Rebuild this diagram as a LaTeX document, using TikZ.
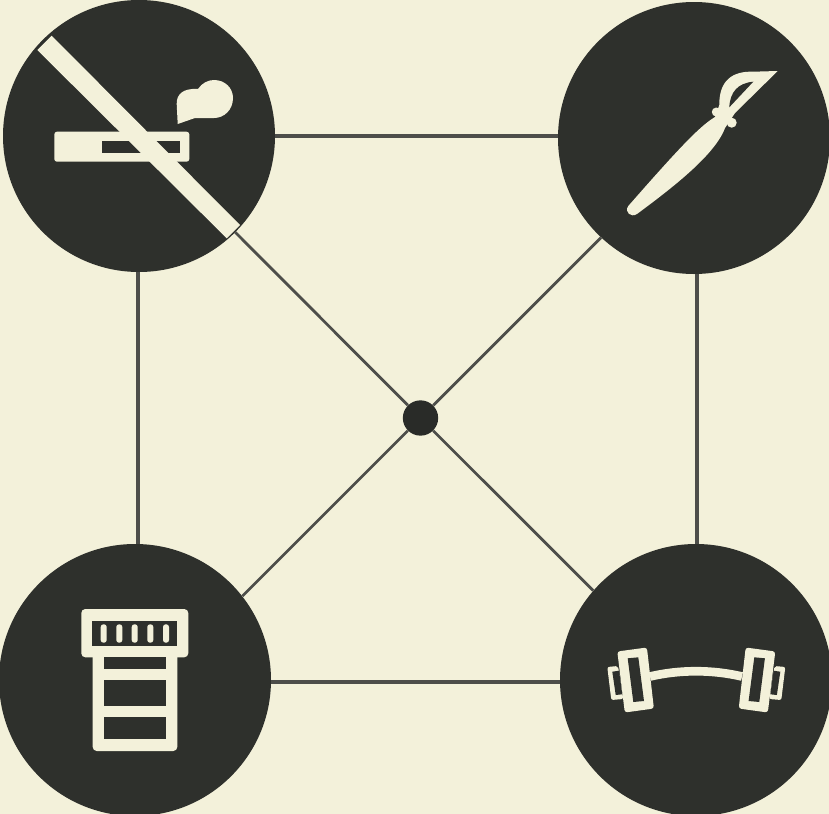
\documentclass[tikz,border=0pt]{standalone}
\usepackage{xcolor}
\usetikzlibrary{positioning}
\definecolor{paper}{HTML}{F3F1DA}
\definecolor{ink}{HTML}{2E302C}
\definecolor{wire}{HTML}{4D4E4A}
\begin{document}
\begin{tikzpicture}[
  x=0.75pt, y=-0.75pt,
  disc/.style={circle, fill=ink, minimum size=204pt, inner sep=0pt},
  hubdot/.style={circle, fill=ink!90!black, minimum size=26.5pt, inner sep=0pt},
  link/.style={wire, line width=2.1pt},
  edge/.style={link, line width=2.7pt},
  icon/.style={fill=paper},
  hole/.style={fill=ink},
  tick/.style={fill=paper, rounded corners=2pt},
]
\useasboundingbox (0,0) rectangle (829,814);
\fill[paper] (0,0) rectangle (829,814);

\node[disc] (smoke) at (139,136) {};
\node[disc] (pen) at (694,138) {};
\node[disc] (pills) at (135,680) {};
\node[disc] (gym) at (696,680) {};
\node[hubdot] (hub) at (420.5,418) {};

\draw[edge] (smoke.east) -- ([yshift=1.5pt]pen.west);
\draw[edge] ([xshift=-0.75pt]smoke.south) -- ([xshift=2.25pt]pills.north);
\draw[edge] ([xshift=2.25pt]pen.south) -- ([xshift=0.75pt]gym.north);
\draw[edge] ([yshift=-1.5pt]pills.east) -- ([yshift=-1.5pt]gym.west);
\draw[link] (hub) -- (smoke.-45);
\draw[link] (hub) -- (pen.227);
\draw[link] (hub) -- (pills.38);
\draw[link] (hub) -- (gym.139);

% no smoking
\fill[icon, rounded corners=2pt] (54.3,131.7) rectangle (189.3,161.7);
\fill[hole] (101.7,140.7) rectangle (180.3,153);
\fill[icon] (37.3,50) -- (51.7,35.7) -- (240,225) -- (226.7,238.3) -- cycle;
\fill[icon] (177.7,124) -- (176.7,104)
  .. controls (176.5,95) and (182,88) .. (198,89)
  .. controls (202,83) and (208,80) .. (214,80)
  .. controls (225,80) and (233,88) .. (233,98)
  .. controls (233,110) and (224,118) .. (214,118)
  -- (195,118) -- cycle;

% pen
\fill[icon] (777.7,71) -- (753,71.7)
  .. controls (733,71) and (719,80) .. (719.3,105)
  -- (715,117)
  .. controls (700,126) and (680,147) .. (628.3,206)
  .. controls (624,212) and (631,218) .. (637,214)
  .. controls (672,188) and (715,155) .. (725,128)
  -- (735,113) -- cycle;
\fill[icon] (716.3,112) circle (4.5);
\fill[icon] (731.7,122.7) circle (5);
\fill[hole] (753.3,81.7) .. controls (738,83) and (730,92) .. (729.3,107.3) -- cycle;

% pill bottle
\fill[icon, rounded corners=3pt] (81.3,609) rectangle (188.3,657.3);
\fill[icon, rounded corners=3pt] (92.7,650) rectangle (177.3,751);
\fill[hole] (92.3,620.7) rectangle (177.3,646);
\foreach \tx in {103.7,119.3,134.7,150.3,166}
  \fill[tick] (\tx-3,624.3) rectangle (\tx+3,642.7);
\fill[hole] (103.7,657.3) rectangle (166,668.7);
\fill[hole] (103.7,679.7) rectangle (166,705.7);
\fill[hole] (103.7,717) rectangle (166,739);

% barbell
\draw[paper, line width=6.5pt] (650,676.5) .. controls (680,669.5) and (712,669.5) .. (742,676.5);
\foreach \side in {1,-1}{
  \begin{scope}[shift={(696.3,0)}, xscale=\side]
    \fill[icon, rounded corners=1.5pt] (-89,667) -- (-78.3,666) -- (-73,699) -- (-85,700) -- cycle;
    \fill[hole] (-84,671.7) -- (-77.3,670.7) -- (-74,694.3) -- (-80.6,695) -- cycle;
    \fill[icon, rounded corners=2pt] (-79,651.5) -- (-49.4,647.5) -- (-42.4,708.5) -- (-71.5,712.5) -- cycle;
    \fill[hole] (-68.6,658.3) -- (-58,657.3) -- (-52.3,701) -- (-63,702) -- cycle;
  \end{scope}
}
\end{tikzpicture}
\end{document}
